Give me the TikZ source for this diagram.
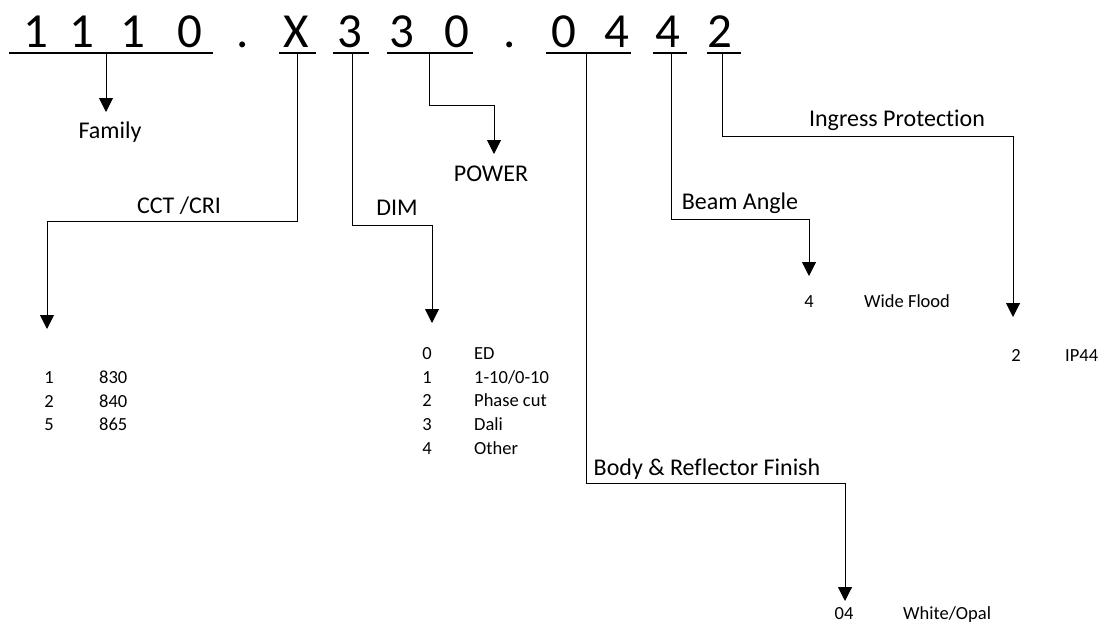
\documentclass[tikz,border=0pt]{standalone}
\usepackage{fontspec}
\setmainfont{Carlito}[Ligatures=NoCommon]
\usetikzlibrary{arrows.meta}
\tikzset{
  code/.style={anchor=base, inner sep=0pt, font=\fontsize{49}{52}\selectfont},
  uline/.style={line width=1.4pt, black},
  conn/.style={line width=1pt, black, -{Triangle[width=14pt,length=14pt]}},
  lab/.style={anchor=base, inner sep=0pt, font=\fontsize{24}{28}\selectfont},
  item/.style={anchor=base, inner sep=0pt, font=\fontsize{18.5}{22}\selectfont},
  desc/.style={anchor=base west, inner sep=0pt, font=\fontsize{18.5}{22}\selectfont},
}
\begin{document}
\begin{tikzpicture}[x=1pt,y=-1pt]
\useasboundingbox (0,0) rectangle (1103,624);
% code characters
\node[code] (c1) at (36,47) {1};
\node[code] (c2) at (82,47) {1};
\node[code] (c3) at (133,47) {1};
\node[code] (c4) at (190,47) {0};
\node[code] (c5) at (243,47) {.};
\node[code] (c6) at (296,47) {X};
\node[code] (c7) at (350,47) {3};
\node[code] (c8) at (402,47) {3};
\node[code] (c9) at (457,47) {0};
\node[code] (c10) at (510,47) {.};
\node[code] (c11) at (564,47) {0};
\node[code] (c12) at (617,47) {4};
\node[code] (c13) at (668,47) {4};
\node[code] (c14) at (720,47) {2};
% underlines
\draw[uline] (9,53) -- (213,53);
\draw[uline] (279,53) -- (316,53);
\draw[uline] (333,53) -- (369,53);
\draw[uline] (387,53) -- (473,53);
\draw[uline] (546,53) -- (631,53);
\draw[uline] (653,53) -- (687,53);
\draw[uline] (707,53) -- (741,53);
% connector start points (under the underlines)
\coordinate (sFam) at (106,54);
\coordinate (sCCT) at (297,54);
\coordinate (sDIM) at (352,54);
\coordinate (sPOW) at (429,54);
\coordinate (sBody) at (586,54);
\coordinate (sBeam) at (671,54);
\coordinate (sIP) at (722,54);
% arrow tips
\coordinate (tFam) at (106,112);
\coordinate (tCCT) at (47,329);
\coordinate (tDIM) at (432,323);
\coordinate (tPOW) at (494,154);
\coordinate (tBody) at (845,601);
\coordinate (tBeam) at (809,276);
\coordinate (tIP) at (1013,317);
% labels
\node[lab] (lFam) at (110,138) {Family};
\node[lab] (lCCT) at (179,213) {CCT /CRI};
\node[lab] (lDIM) at (397,215) {DIM};
\node[lab] (lPOW) at (491,181) {POWER};
\node[lab] (lBody) at (707,475) {Body \& Reflector Finish};
\node[lab] (lBeam) at (740,209) {Beam Angle};
\node[lab] (lIP) at (897,126) {Ingress Protection};
% connectors
\draw[conn] (sFam) -- (tFam);
\draw[conn] (sCCT) -- (297,221) -| (tCCT);
\draw[conn] (sDIM) -- (352,225) -| (tDIM);
\draw[conn] (sPOW) -- (429,105) -| (tPOW);
\draw[conn] (sBody) -- (586,483) -| (tBody);
\draw[conn] (sBeam) -- (671,219) -| (tBeam);
\draw[conn] (sIP) -- (722,136) -| (tIP);
% CCT list
\node[item] (cc1) at (49,383) {1};
\node[desc] (cd1) at (99,383) {830};
\node[item] (cc2) at (49,407) {2};
\node[desc] (cd2) at (99,407) {840};
\node[item] (cc3) at (49,430) {5};
\node[desc] (cd3) at (99,430) {865};
% DIM list
\node[item] (dc0) at (427,359) {0};
\node[desc] (dd0) at (474,359) {ED};
\node[item] (dc1) at (427,383) {1};
\node[desc] (dd1) at (474,383) {1-10/0-10};
\node[item] (dc2) at (427,406) {2};
\node[desc] (dd2) at (474,406) {Phase cut};
\node[item] (dc3) at (427,430) {3};
\node[desc] (dd3) at (474,430) {Dali};
\node[item] (dc4) at (427,454) {4};
\node[desc] (dd4) at (474,454) {Other};
% Beam
\node[item] (bc) at (809,307) {4};
\node[desc] (bd) at (864,307) {Wide Flood};
% IP
\node[item] (ic) at (1016,361) {2};
\node[desc] (id) at (1065,361) {IP44};
% Body
\node[item] (fc) at (844,619) {04};
\node[desc] (fd) at (903,619) {White/Opal};
\end{tikzpicture}
\end{document}
